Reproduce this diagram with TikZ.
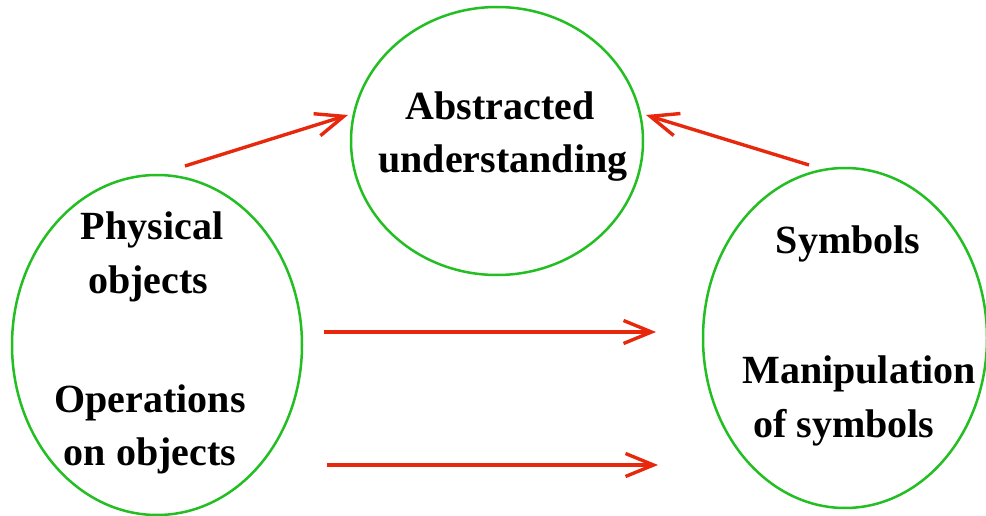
\documentclass[tikz,border=0pt]{standalone}
\usepackage{fontspec}
\setmainfont{Liberation Serif}
\usetikzlibrary{arrows.meta}
\definecolor{ringgreen}{RGB}{34,190,34}
\definecolor{arrred}{RGB}{232,40,12}
\tikzset{
  ring/.style={draw=ringgreen, line width=2.5pt},
  lbl/.style={anchor=base, inner sep=0pt, font=\bfseries\fontsize{40}{53}\selectfont},
  link/.style={draw=arrred, line width=3.4pt, -{Straight Barb[length=28pt,width=23pt,line width=3.4pt]}}
}
\begin{document}
\begin{tikzpicture}[x=1pt,y=-1pt]
\useasboundingbox (0,0) rectangle (986,516);
% circles
\draw[ring] (497,141) ellipse [x radius=146, y radius=134];
\draw[ring] (157,345) ellipse [x radius=145, y radius=170];
\draw[ring] (845,338) ellipse [x radius=142, y radius=170];
% texts
\node[lbl] (t1) at (500,120) {Abstracted};
\node[lbl] (t2) at (503,173) {understanding};
\node[lbl] (t3) at (152,240) {Physical};
\node[lbl] (t4) at (148,293) {objects};
\node[lbl] (t5) at (150,412) {Operations};
\node[lbl] (t6) at (150,465) {on objects};
\node[lbl] (t7) at (848,253) {Symbols};
\node[lbl] (t8) at (859,383) {Manipulation};
\node[lbl] (t9) at (844,437) {of symbols};
% arrow end points
\coordinate (a1s) at (185,166);
\coordinate (a1e) at (348,115);
\coordinate (a2s) at (809,165);
\coordinate (a2e) at (646,115);
\coordinate (a3s) at (324,332);
\coordinate (a3e) at (656,332);
\coordinate (a4s) at (327,465);
\coordinate (a4e) at (658,465);
\draw[link] (a1s) -- (a1e);
\draw[link] (a2s) -- (a2e);
\draw[link] (a3s) -- (a3e);
\draw[link] (a4s) -- (a4e);
\end{tikzpicture}
\end{document}
